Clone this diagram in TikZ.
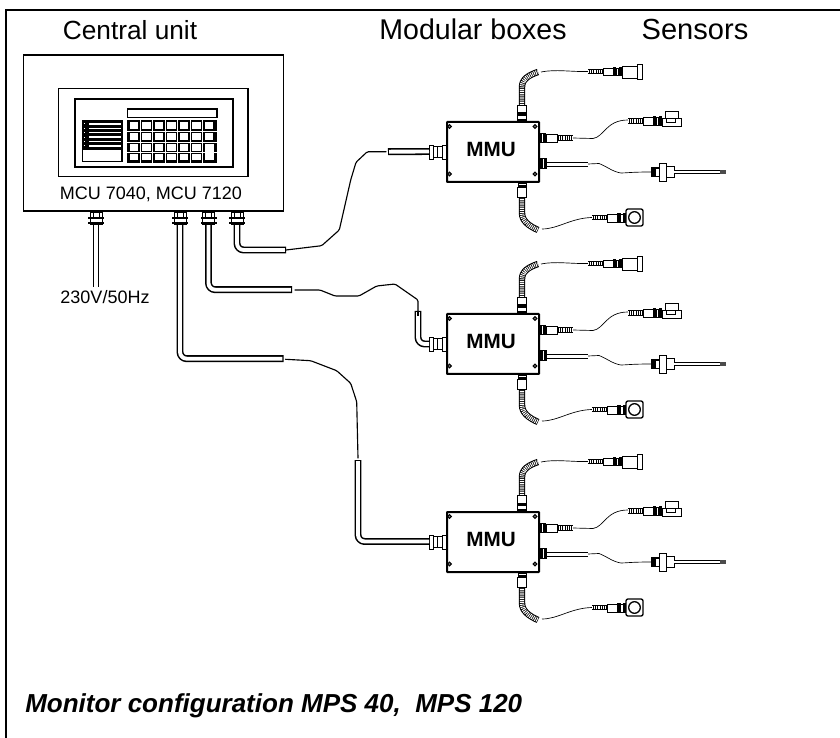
\documentclass[tikz,border=0pt]{standalone}
\usepackage{fontspec}
\setmainfont{Liberation Sans}
\tikzset{
  wire/.style={line width=.85pt,line join=round,line cap=round},
  thinw/.style={line width=.5pt,line join=round},
  thino/.style={line width=.7pt,draw=black,fill=white},
  tubeout/.style={line width=5.2pt,draw=black,rounded corners=5pt,line join=round},
  tubein/.style={line width=2.9pt,draw=white,rounded corners=5pt,line join=round,shorten >=.8pt,shorten <=.8pt},
  hoseout/.style={line width=4.8pt,draw=black},
  hosein/.style={line width=3.3pt,draw=white,dash pattern=on .7pt off .7pt},
  hatchout/.style={line width=4pt,draw=black},
  hatchin/.style={line width=2.7pt,draw=white,dash pattern=on .9pt off .7pt},
  heading/.style={inner sep=0pt,anchor=base},
  small label/.style={font=\fontsize{13.5pt}{16pt}\selectfont,inner sep=0pt},
  mmu/.pic={
    % top lead
    \draw[hoseout] (76,-16) -- (76,-34) .. controls (76,-42) and (83,-46) .. (92,-49);
    \draw[hosein] (76,-16) -- (76,-34) .. controls (76,-42) and (83,-46) .. (92,-49);
    \draw[thinw] (95,-49) .. controls (110,-52) and (125,-49) .. (142,-49.5);
    \draw[hatchout] (142,-49.5) -- (157,-49.5); \draw[hatchin] (142,-49.5) -- (157,-49.5);
    \draw[thino] (157,-53) rectangle (167,-46);
    \fill (167,-54) rectangle (170,-45); \draw[thino] (170,-53) rectangle (172.5,-46); \fill (172.5,-54) rectangle (176,-45);
    \draw[thino] (176,-55) rectangle (191,-43);
    \draw[thino] (191,-57) rectangle (196,-42);
    \draw[thino] (71.7,-16) rectangle (80.7,0);
    \fill (71.7,-8.5) rectangle (80.7,-5); \fill (71.7,-2) rectangle (80.7,0);
    % bottom lead
    \draw[hoseout] (76,76) -- (76,92) .. controls (76,100) and (83,105) .. (92,109);
    \draw[hosein] (76,76) -- (76,92) .. controls (76,100) and (83,105) .. (92,109);
    \draw[thinw] (96,108) .. controls (112,108) and (125,97) .. (146,96.5);
    \draw[hatchout] (146,96.5) -- (161,96.5); \draw[hatchin] (146,96.5) -- (161,96.5);
    \draw[thino] (161,93) rectangle (171,101);
    \fill (171,92) rectangle (174.5,102); \draw[thino] (174.5,93) rectangle (177,101); \fill (177,92) rectangle (180,102);
    \draw[line width=1pt,fill=white,rounded corners=1.5pt] (180,88) rectangle (197,105);
    \draw[line width=1pt,fill=white] (188.5,96.5) circle (5.8);
    \draw[thino] (71.7,66) rectangle (80.7,76);
    \fill (71.7,60) rectangle (80.7,66);
    \draw[white,line width=.5pt] (72.5,63) -- (80,63);
    % right upper lead
    \draw[thinw] (127,17) -- (147,17.5) .. controls (158,16) and (160,-1) .. (182,-1);
    \draw[hatchout] (111,17) -- (127,17); \draw[hatchin] (111,17) -- (127,17);
    \draw[thino] (100,13) rectangle (111,21);
    \fill (93,12) rectangle (100,22); \draw[white,line width=.5pt] (96,13) -- (96,21);
    \draw[hatchout] (182,0) -- (197,0); \draw[hatchin] (182,0) -- (197,0);
    \draw[thino] (197,-4) rectangle (207,4);
    \fill (207,-5) rectangle (210,5); \draw[thino] (210,-4) rectangle (212.5,4); \fill (212.5,-5) rectangle (216,5);
    \draw[thino] (219,-10) rectangle (232,-3);
    \draw[thino] (216,-3) rectangle (235,5);
    \draw[thino] (220,-3) rectangle (229,1);
    % right lower lead
    \draw[thinw] (142,43) -- (153,42.5) .. controls (160,45) and (167,51) .. (175,52) .. controls (180,52) and (185,51) .. (205,51);
    \draw[line width=3.6pt] (101,43.3) -- (142,43.3);
    \draw[line width=2.6pt,white] (101,43.3) -- (141.6,43.3);
    \fill (93,37) rectangle (101,48); \draw[white,line width=.5pt] (97,38) -- (97,47);
    \fill (205,46) rectangle (213,56);
    \draw[thino] (209,47) rectangle (213,55);
    \draw[thino] (213,42) rectangle (220,60);
    \draw[thino] (220,45) rectangle (228,56);
    \draw[line width=2.8pt] (228,51) -- (274,51);
    \draw[line width=1.8pt,white] (228,51) -- (274,51);
    \draw[line width=2.6pt,black!70] (274,51) -- (280,51);
    % left connector
    \draw[thino] (-17,24) rectangle (-13,38);
    \draw[thino] (-13,25.5) rectangle (-4,36.5);
    \draw[line width=.6pt] (-9,25.5) -- (-9,36.5);
    \draw[thino] (-4,24) rectangle (0,38);
    % box
    \node[draw=black,fill=white,line width=1.5pt,rounded corners=.4pt,minimum width=69pt,minimum height=45pt,inner sep=0pt,anchor=north west] (-box) at (0,0) {};
    \foreach \sx/\sy in {3.5/5.5,89/5.5,3.5/53,89/53}
      \draw[line width=.8pt,fill=black!45] (\sx,\sy) circle (1.9);
    \node[font=\fontsize{15.5pt}{17pt}\bfseries\selectfont,inner sep=0pt] (-label) at (45,28) {MMU};
  }
}
\begin{document}
\begin{tikzpicture}[x=0.75pt,y=-0.75pt]
\useasboundingbox (0,0) rectangle (840,738);
% page frame
\coordinate (ftl) at (6,10); \coordinate (ftr) at (840,10); \coordinate (fbl) at (6,738);
\draw[line width=1.7pt] (ftr) -- (ftl) -- (fbl);
% headings
\node[heading,font=\fontsize{19.7pt}{22pt}\selectfont] (h1) at (130,39.5) {Central unit};
\node[heading,font=\fontsize{21.4pt}{24pt}\selectfont] (h2) at (473,39.5) {Modular boxes};
\node[heading,font=\fontsize{21.8pt}{24pt}\selectfont] (h3) at (695,39.5) {Sensors};

% module boxes
\pic (m1) at (446,121) {mmu};
\pic (m2) at (446,313) {mmu};
\pic (m3) at (446,511) {mmu};

% ports on modules
\coordinate (in1) at (429,151.5);
\coordinate (in2) at (429,344);
\coordinate (in3) at (429,541.5);

% cables from the central unit
\coordinate (p0) at (96,224);
\coordinate (p1) at (180,224);
\coordinate (p2) at (208.5,224);
\coordinate (p3) at (237,224);
\coordinate (a1) at (286,250);
\coordinate (b1) at (292,289.7);
\coordinate (c1) at (283.5,358.7);
\coordinate (pe) at (96,287);

\draw[line width=5pt] (p0) -- (pe);
\draw[line width=2.9pt,white] (p0) -- (pe);

\draw[tubeout] (p3) |- (a1);
\draw[tubein] (p3) |- (a1);
\draw[tubeout] (p2) |- (b1);
\draw[tubein] (p2) |- (b1);
\draw[tubeout] (p1) |- (c1);
\draw[tubein] (p1) |- (c1);

% wire and tube 1
\coordinate (t1) at (388,151.7);
\draw[wire,rounded corners=1pt] (a1) -- (321.7,245.7) -- (339.3,230) -- (350.7,180) -- (356,162.3) -- (367.3,151.7) -- (386,151.7);
\draw[tubeout] (t1) -- (in1);
\draw[tubein,shorten >=0pt] (t1) -- (in1);

% wire and tube 2
\coordinate (t2) at (418,311);
\draw[wire,rounded corners=1pt] (295,290) -- (320,290) -- (335,296) -- (359,296) -- (376.7,286) -- (395,284) -- (418,300) -- (418,316);
\draw[tubeout] (t2) |- (in2);
\draw[tubein,shorten >=0pt] (t2) |- (in2);
\draw[line width=.85pt] (418,311) -- (418,316);

% wire and tube 3
\coordinate (t3) at (358,460);
\draw[wire,rounded corners=1pt] (285.5,359.3) -- (310.7,360.7) -- (336.7,370.7) -- (350.7,383.3) -- (356.7,401.7) -- (358,458);
\draw[tubeout] (t3) |- (in3);
\draw[tubein,shorten >=0pt] (t3) |- (in3);

% central unit connectors
\foreach \cx in {96,180,208.5,237}{
  \draw[thino] (\cx-6,210) rectangle (\cx+6,224);
  \fill (\cx-8,217) rectangle (\cx+8,219);
  \fill (\cx-8,222) rectangle (\cx+8,224);
  \fill (\cx-6,211) rectangle (\cx+6,213);
  \draw[line width=.6pt] (\cx-3,213) -- (\cx-3,217) (\cx+3,213) -- (\cx+3,217);
}

% central unit
\node[draw=black,fill=white,line width=1.3pt,minimum width=195pt,minimum height=117pt,inner sep=0pt,anchor=north west] (cu) at (22.7,54) {};
\node[draw=black,fill=white,line width=.9pt,minimum width=142.2pt,minimum height=66.2pt,inner sep=0pt,anchor=north west] (panel) at (57.7,87.7) {};
\node[draw=black,fill=white,line width=1.5pt,minimum width=118.3pt,minimum height=51.3pt,inner sep=0pt,anchor=north west] (face) at (74,97.7) {};
\node[small label] (culabel) at (151,194.5) {MCU 7040, MCU 7120};
\node[small label] (powerlabel) at (105,297) {230V/50Hz};

% display
\node[draw=black,fill=white,line width=1.2pt,minimum width=67pt,minimum height=6.3pt,inner sep=0pt,anchor=north west] (disp) at (126.7,108.3) {};
% keypad
\fill (126.7,120) rectangle (216.7,162.7);
\foreach \i in {0,...,6}{
  \foreach \ky/\kh in {122.2/6.8,133/6.8}
    \fill[white] (129.8+12.5*\i,\ky) rectangle (138.2+12.5*\i,\ky+\kh);
}
\foreach \i in {0,...,5}{
  \foreach \ky/\kh in {143.8/6.8,153.8/6.3}
    \fill[white] (129.8+12.5*\i,\ky) rectangle (138.2+12.5*\i,\ky+\kh);
}
\fill[white] (205.3,143.8) rectangle (213.7,160.1);
\foreach \i in {1,...,6}
  \draw[white,line width=.25pt] (127.4+12.5*\i,120) -- (127.4+12.5*\i,162.7);
\foreach \ky in {131,142,152.3}
  \draw[white,line width=.25pt] (126.7,\ky) -- (216.7,\ky);
% left list block
\fill (81.7,120) rectangle (122.7,162.3);
\foreach \ky in {124,128.4,132.8,137.2,141.6,146}{
  \fill[white] (88.5,\ky-.7) rectangle (120.7,\ky+.7);
  \fill[white] (83.5,\ky-.5) rectangle (85,\ky+.5);
}
\fill[white] (83.2,150.5) rectangle (121.2,161);

\node[font=\fontsize{19.5pt}{24pt}\bfseries\itshape\selectfont,inner sep=0pt,anchor=base west] (caption) at (25,712.5) {Monitor configuration MPS 40,\ \ MPS 120};
\end{tikzpicture}
\end{document}
